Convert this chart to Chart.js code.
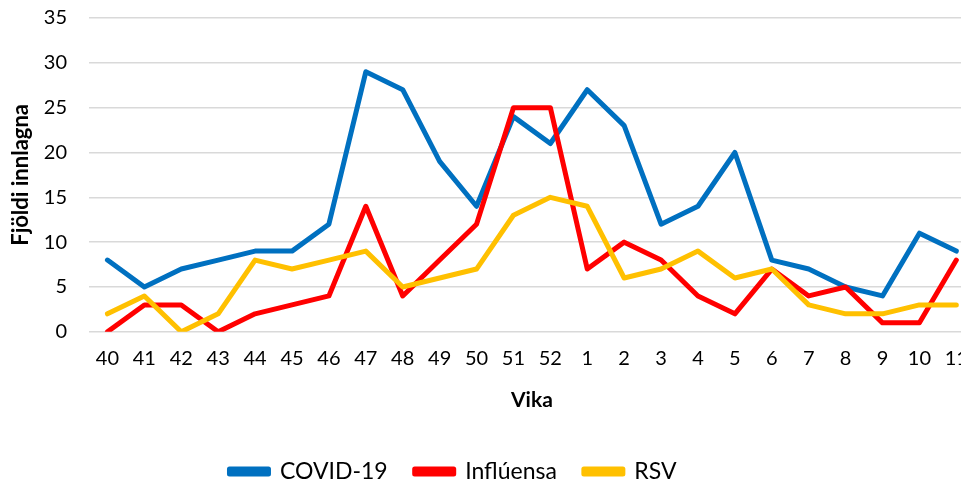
<!DOCTYPE html>
<html>
<head>
<meta charset="utf-8">
<script src="https://cdn.jsdelivr.net/npm/chart.js@4.4.1/dist/chart.umd.min.js"></script>
<style>
  html, body { margin: 0; padding: 0; background: #fff; overflow: hidden; }
  #wrap { width: 961px; height: 489px; overflow: hidden; }
  #chart { margin-top: -16px; display: block; }
</style>
</head>
<body>
<div id="wrap"><canvas id="chart" width="983" height="520"></canvas></div>
<script>
// Vikur (x-ás)
const weeks = ['40', '41', '42', '43', '44', '45', '46', '47', '48', '49', '50', '51', '52',
               '1', '2', '3', '4', '5', '6', '7', '8', '9', '10', '11'];

// Fjöldi innlagna eftir sjúkdómi
const covid = [8, 5, 7, 8, 9, 9, 12, 29, 27, 19, 14, 24, 21, 27, 23, 12, 14, 20, 8, 7, 5, 4, 11, 9];
const influensa = [0, 3, 3, 0, 2, 3, 4, 14, 4, 8, 12, 25, 25, 7, 10, 8, 4, 2, 7, 4, 5, 1, 1, 8];
const rsv = [2, 4, 0, 2, 8, 7, 8, 9, 5, 6, 7, 13, 15, 14, 6, 7, 9, 6, 7, 3, 2, 2, 3, 3];

const yTicks = [0, 5, 10, 15, 20, 25, 30, 35];

const FONT = 'Lato, "Open Sans", sans-serif';

function line(label, data, color, order) {
    return {
        label: label,
        data: data,
        borderColor: color,
        backgroundColor: color,
        borderWidth: 5,
        pointRadius: 0,
        tension: 0,
        borderCapStyle: 'round',
        borderJoinStyle: 'round',
        order: order
    };
}

// færir skýringuna aðeins til vinstri eins og í Excel
const legendShift = {
    id: 'legendShift',
    afterLayout(chart) {
        const lg = chart.legend;
        if (!lg) return;
        lg.left -= 40;
        lg.right -= 40;
    }
};

new Chart(document.getElementById('chart'), {
    type: 'line',
    data: {
        labels: weeks,
        datasets: [
            line('COVID-19', covid, '#0070C0', 3),
            line('Inflúensa', influensa, '#FF0000', 2),
            line('RSV', rsv, '#FFC000', 1)
        ]
    },
    options: {
        responsive: false,
        animation: false,
        layout: { padding: { top: 8, left: 6, right: 3, bottom: 11 } },
        scales: {
            x: {
                offset: true,
                grid: { display: false, drawTicks: false },
                border: { display: false },
                ticks: { color: '#000', font: { family: FONT, size: 20 }, padding: 15, maxRotation: 0, autoSkip: false },
                title: { display: true, text: 'Vika', color: '#000', font: { family: FONT, size: 21, weight: 'bold' }, padding: { top: 2, bottom: 20 } }
            },
            y: {
                min: 0,
                max: 35,
                afterBuildTicks: (axis) => { axis.ticks = yTicks.map(v => ({ value: v })); },
                afterFit: (axis) => { axis.width = 83; },
                grid: { color: '#D9D9D9', lineWidth: 1.5, drawTicks: false },
                border: { display: false },
                ticks: { color: '#000', font: { family: FONT, size: 20 }, padding: 22 },
                title: { display: true, text: 'Fjöldi innlagna', color: '#000', font: { family: FONT, size: 22, weight: 'bold' }, padding: { top: 2, bottom: 0 } }
            }
        },
        plugins: {
            legend: {
                position: 'bottom',
                labels: {
                    sort: (a, b) => a.datasetIndex - b.datasetIndex,
                    color: '#000',
                    font: { family: FONT, size: 23 },
                    boxWidth: 39,
                    boxHeight: 5,
                    padding: 27
                }
            },
            tooltip: { enabled: false }
        }
    },
    plugins: [legendShift]
});
</script>
</body>
</html>
